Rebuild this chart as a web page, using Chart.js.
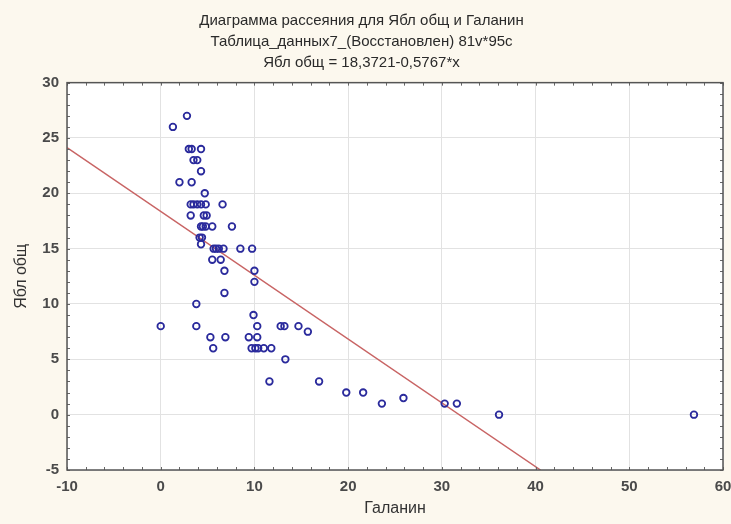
<!DOCTYPE html>
<html>
<head>
<meta charset="utf-8">
<script src="https://cdn.jsdelivr.net/npm/chart.js@4/dist/chart.umd.min.js"></script>
<style>
  html, body { margin: 0; padding: 0; background: #fcf8ee; }
  #wrap { width: 731px; height: 524px; }
</style>
</head>
<body>
<div id="wrap"><canvas id="c" width="731" height="524"></canvas></div>
<script>
// Галанин (x) and Ябл общ (y) for each observation
const galanin = [
  2.8, 1.3,
  3.0, 3.3, 4.3,
  3.5, 3.9,
  4.3,
  2.0, 3.3,
  4.7,
  3.2, 3.5, 3.9, 4.3, 4.8, 6.6,
  3.2, 4.6, 4.9,
  4.3, 4.5, 4.8, 5.5, 7.6,
  4.15, 4.4,
  4.3,
  5.65, 5.9, 6.2, 6.7, 8.5, 9.75,
  5.5, 6.4,
  6.8, 10.0,
  10.0,
  6.8,
  3.8,
  9.9,
  0.0, 3.8, 10.3, 12.8, 13.2, 14.7,
  15.7,
  5.3, 6.9, 9.4, 10.3,
  5.6, 9.7, 10.1, 10.4, 11.0, 11.8,
  13.3,
  11.6, 16.9,
  19.8, 21.6,
  25.9,
  23.6, 30.3, 31.6,
  36.1, 56.9
];
const yablObsh = [
  27, 26,
  24, 24, 24,
  23, 23,
  22,
  21, 21,
  20,
  19, 19, 19, 19, 19, 19,
  18, 18, 18,
  17, 17, 17, 17, 17,
  16, 16,
  15.4,
  15, 15, 15, 15, 15, 15,
  14, 14,
  13, 13,
  12,
  11,
  10,
  9,
  8, 8, 8, 8, 8, 8,
  7.5,
  7, 7, 7, 7,
  6, 6, 6, 6, 6, 6,
  5,
  3, 3,
  2, 2,
  1.5,
  1, 1, 1,
  0, 0
];

// Fitted line: Ябл общ = 18,3721 - 0,5767*x
const intercept = 18.3721;
const slope = -0.5767;

const xTicks = [-10, 0, 10, 20, 30, 40, 50, 60];
const yTicks = [-5, 0, 5, 10, 15, 20, 25, 30];

const titleLines = [
  'Диаграмма рассеяния для Ябл общ и Галанин',
  'Таблица_данных7_(Восстановлен) 81v*95c',
  'Ябл общ = 18,3721-0,5767*x'
];
const xTitle = 'Галанин';
const yTitle = 'Ябл общ';

const xMin = xTicks[0], xMax = xTicks[xTicks.length - 1];
const yMin = yTicks[0], yMax = yTicks[yTicks.length - 1];

const points = galanin.map((x, i) => ({ x: x, y: yablObsh[i] }));
// regression segment from the left edge down to the bottom edge
const fitLine = [
  { x: xMin, y: intercept + slope * xMin },
  { x: (yMin - intercept) / slope, y: yMin }
];

const FONT = '"Liberation Sans", Arial, sans-serif';

const frame = {
  id: 'frame',
  beforeDraw(chart) {
    const { ctx, chartArea: a } = chart;
    ctx.save();
    ctx.fillStyle = '#fcf8ee';
    ctx.fillRect(0, 0, chart.width, chart.height);
    ctx.fillStyle = '#ffffff';
    ctx.fillRect(a.left, a.top, a.right - a.left, a.bottom - a.top);
    ctx.restore();
  },
  afterDraw(chart) {
    const { ctx, chartArea: a, scales } = chart;
    ctx.save();
    // minor ticks on all four sides
    ctx.strokeStyle = '#666';
    ctx.lineWidth = 1;
    ctx.beginPath();
    for (let v = xMin; v <= xMax; v += 2) {
      const px = Math.round(scales.x.getPixelForValue(v)) + 0.5;
      ctx.moveTo(px, a.bottom); ctx.lineTo(px, a.bottom - 3);
      ctx.moveTo(px, a.top); ctx.lineTo(px, a.top + 3);
    }
    for (let v = yMin; v <= yMax; v += 1) {
      const py = Math.round(scales.y.getPixelForValue(v)) + 0.5;
      ctx.moveTo(a.left, py); ctx.lineTo(a.left + 3, py);
      ctx.moveTo(a.right, py); ctx.lineTo(a.right - 3, py);
    }
    ctx.stroke();
    // plot frame
    ctx.strokeStyle = '#555';
    ctx.lineWidth = 1.5;
    ctx.strokeRect(a.left, a.top, a.right - a.left, a.bottom - a.top);
    ctx.restore();
  }
};

new Chart(document.getElementById('c'), {
  type: 'scatter',
  data: {
    datasets: [
      {
        type: 'line',
        data: fitLine,
        borderColor: '#c86464',
        borderWidth: 1.5,
        pointRadius: 0,
        fill: false,
        order: 2
      },
      {
        data: points,
        pointStyle: 'circle',
        pointRadius: 3.3,
        pointBorderWidth: 1.8,
        borderColor: '#2a2a9c',
        backgroundColor: 'rgba(255,255,255,0)',
        order: 1
      }
    ]
  },
  options: {
    responsive: false,
    animation: false,
    events: [],
    layout: { padding: { left: 0, right: 8, top: 0, bottom: 0 } },
    plugins: {
      legend: { display: false },
      tooltip: { enabled: false },
      title: {
        display: true,
        text: titleLines,
        color: '#2a2a2a',
        font: { family: FONT, size: 15, weight: 'normal', lineHeight: 1.37 },
        padding: { top: 11, bottom: 10 }
      }
    },
    scales: {
      x: {
        type: 'linear',
        min: xMin, max: xMax,
        afterBuildTicks(scale) { scale.ticks = xTicks.map(v => ({ value: v })); },
        afterFit(scale) {
          scale.height = 54;
          // let the end labels run past the plot edges
          scale.paddingLeft = 0;
          scale.paddingRight = 0;
        },
        grid: { color: '#e2e2e2', lineWidth: 1, drawTicks: false },
        border: { display: false },
        ticks: {
          color: '#4a4a4a',
          font: { family: FONT, size: 15, weight: 'bold' },
          padding: 8,
          maxRotation: 0
        },
        title: {
          display: true,
          text: xTitle,
          color: '#333',
          font: { family: FONT, size: 16 },
          padding: { top: 0, bottom: 6 }
        }
      },
      y: {
        type: 'linear',
        min: yMin, max: yMax,
        afterBuildTicks(scale) { scale.ticks = yTicks.map(v => ({ value: v })); },
        afterFit(scale) { scale.width = 67; },
        grid: { color: '#e2e2e2', lineWidth: 1, drawTicks: false },
        border: { display: false },
        ticks: {
          color: '#4a4a4a',
          font: { family: FONT, size: 15, weight: 'bold' },
          padding: 8
        },
        title: {
          display: true,
          text: yTitle,
          color: '#333',
          font: { family: FONT, size: 16 },
          padding: { top: 12, bottom: 0 }
        }
      }
    }
  },
  plugins: [frame]
});
</script>
</body>
</html>
